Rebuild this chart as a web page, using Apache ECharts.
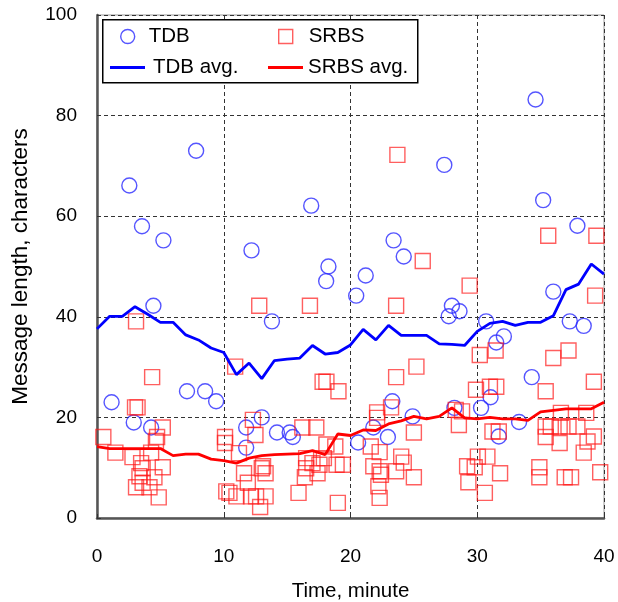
<!DOCTYPE html>
<html>
<head>
<meta charset="utf-8">
<script src="https://cdn.jsdelivr.net/npm/echarts@6/dist/echarts.min.js"></script>
<style>
html,body{margin:0;padding:0;background:#fff;}
#chart{width:618px;height:602px;}
</style>
</head>
<body>
<div id="chart"></div>
<script>
// TDB individual messages: time (minute), length (characters)
var tdbTime = [1.15,2.55,2.9,3.55,4.27,4.45,5.24,7.1,7.82,8.53,9.4,11.77,11.77,12.19,13.0,13.8,14.2,15.2,15.45,16.9,18.08,18.26,20.45,20.6,21.2,21.8,22.95,23.3,23.4,24.2,24.9,27.4,27.75,28.0,28.6,28.2,30.3,30.7,31.05,31.5,31.7,32.1,33.3,34.3,34.6,35.2,36.0,37.3,37.9,38.4];
var tdbLen  = [23.0,66.1,19.0,58.0,18.0,42.2,55.2,25.2,73.0,25.2,23.2,18.0,14.0,53.2,20.0,39.1,17.0,17.0,16.1,62.1,47.1,50.0,44.2,15.0,48.2,18.0,16.1,23.2,55.2,52.0,20.2,70.2,40.1,42.2,41.1,21.9,21.9,39.1,24.0,34.9,16.2,36.1,19.1,28.0,83.2,63.2,45.0,39.1,58.1,38.2];

// SRBS individual messages
var srbsTime = [0.5,1.45,2.8,3.08,3.0,3.2,4.35,4.27,4.74,4.65,5.19,3.48,3.6,5.19,4.53,3.35,3.08,3.6,4.14,4.87,
  10.9,12.8,12.3,12.5,10.1,10.1,11.2,11.6,13.3,13.1,11.9,10.2,10.45,11.0,12.15,12.55,12.87,13.3,
  15.9,16.2,17.3,16.8,17.8,18.1,19.05,16.5,17.0,17.55,16.5,17.4,16.4,18.1,18.8,18.9,19.4,19.0,17.9,13.0,
  21.6,22.3,22.1,22.1,23.2,23.6,23.6,23.7,25.2,25.7,25.0,24.0,24.2,21.8,22.3,22.4,22.2,22.3,23.6,25.0,
  29.4,30.2,31.45,35.6,39.4,39.3,36.0,37.2,39.2,29.9,31.0,31.5,35.4,28.3,28.8,28.55,31.2,31.7,35.4,35.8,36.5,37.2,37.9,38.6,36.6,39.2,35.4,36.5,38.7,38.4,30.05,30.8,29.2,29.8,31.8,29.3,30.6,34.9,34.9,36.9,37.4,39.7];
var srbsLen  = [16.1,13.0,12.1,39.1,22.0,22.0,28.0,13.0,16.1,15.3,18.0,10.9,9.9,10.1,8.1,8.3,6.1,7.0,6.1,4.1,
  30.1,42.2,19.5,16.5,16.1,14.9,12.9,8.9,8.9,10.3,7.0,5.3,5.0,4.3,4.3,4.3,2.2,4.3,
  5.0,18.0,18.0,42.2,27.1,27.1,25.2,11.9,10.9,10.6,9.9,8.9,8.1,14.6,14.2,10.6,10.6,3.0,11.9,9.9,
  14.2,13.1,21.0,19.9,22.0,28.0,42.2,72.2,30.1,51.1,17.0,12.2,11.0,10.3,9.3,8.6,6.3,4.0,9.3,8.1,
  46.2,32.4,33.3,56.1,56.1,44.2,31.8,33.3,27.1,25.5,26.1,26.1,25.2,21.5,21.2,18.5,17.2,17.2,18.2,18.2,18.2,18.2,18.2,20.9,20.9,16.2,16.1,14.9,15.2,13.0,12.2,12.2,10.3,10.1,8.9,7.1,5.0,10.1,8.1,8.1,8.1,9.1];

// Running averages, one value per minute
var avgTime = [0,1,2,3,4,5,6,7,8,9,10,11,12,13,14,15,16,17,18,19,20,21,22,23,24,25,26,27,28,29,30,31,32,33,34,35,36,37,38,39,40];
var tdbAvg  = [37.6,40.1,40.1,42.0,40.5,38.9,38.9,36.4,35.4,33.8,32.9,28.5,30.8,27.7,31.3,31.6,31.8,34.3,32.6,32.9,34.4,37.5,35.4,38.3,36.3,36.3,36.3,34.6,34.5,34.3,37.1,38.7,39.1,38.3,38.9,38.9,40.2,45.4,46.5,50.5,48.5];
var srbsAvg = [14.2,13.8,13.8,13.8,13.8,13.8,12.4,12.7,12.7,11.7,11.4,10.9,11.9,12.4,12.6,12.7,12.8,13.4,12.6,16.7,16.4,17.5,17.4,18.7,19.3,20.2,19.7,20.2,21.9,19.9,19.7,20.0,19.7,19.7,19.4,21.1,21.4,21.7,21.7,21.7,23.0];

var xTicks = [0,10,20,30,40];
var yTicks = [0,20,40,60,80,100];

function pairs(a,b){ var r=[]; for(var i=0;i<a.length;i++) r.push([a[i],b[i]]); return r; }

var FONT = 'Liberation Sans, Arial, sans-serif';
var BLUE_C = '#2a2aff', RED_S = 'rgba(255,20,20,0.85)';
var chart = echarts.init(document.getElementById('chart'), null, {renderer:'canvas'});
var dash = [4,3];
function legend(name, left, top, icon, w, h, extra, itemStyle){
  return {orient:'horizontal',left:left,top:top,itemWidth:w,itemHeight:h,z:5,
    padding:0,textStyle:{fontSize:20.5,color:'#000',fontFamily:FONT,padding:[0,0,0,extra]},
    data:[{name:name,icon:icon,itemStyle:itemStyle}]};
}
chart.setOption({
  animation:false,
  backgroundColor:'#fff',
  grid:{left:97,right:14,top:15,bottom:84,containLabel:false,outerBoundsMode:'none',
    show:true,borderColor:'#999',borderWidth:1},
  xAxis:{type:'value',min:xTicks[0],max:xTicks[xTicks.length-1],interval:10,
    name:'Time, minute',nameLocation:'middle',nameGap:63,
    nameTextStyle:{fontSize:20.5,color:'#000',fontFamily:FONT},
    axisLine:{show:true,onZero:false,lineStyle:{color:'#555',width:2.5}},
    axisTick:{show:true,inside:true,length:4,lineStyle:{color:'#333'}},
    axisLabel:{fontSize:19,color:'#000',margin:29,fontFamily:FONT},
    splitLine:{show:true,lineStyle:{color:'#333',width:1,type:dash}}},
  yAxis:{type:'value',min:yTicks[0],max:yTicks[yTicks.length-1],interval:20,
    name:'Message length, characters',nameLocation:'middle',nameGap:65,nameRotate:90,
    nameTextStyle:{fontSize:22.5,color:'#000',fontFamily:FONT},
    axisLine:{show:true,onZero:false,lineStyle:{color:'#555',width:2.5}},
    axisTick:{show:true,inside:true,length:4,lineStyle:{color:'#333'}},
    axisLabel:{fontSize:19,color:'#000',margin:20,fontFamily:FONT},
    splitLine:{show:true,lineStyle:{color:'#333',width:1,type:dash}}},
  graphic:[{type:'rect',left:102,top:19,z:3,shape:{width:315,height:63},
    style:{fill:'#fff',stroke:'#000',lineWidth:1.5}}],
  legend:[
    legend('TDB',120,26,'circle',14,14,9,{color:'rgba(0,0,0,0)',borderColor:BLUE_C,borderWidth:1.4}),
    legend('SRBS',278,26,'rect',14,14,11,{color:'rgba(0,0,0,0)',borderColor:RED_S,borderWidth:1.4}),
    legend('TDB avg.',110,57,'rect',35,3,3,{color:'#0000ff',borderWidth:0}),
    legend('SRBS avg.',268,57,'rect',35,3,0,{color:'#ff0000',borderWidth:0})
  ],
  series:[
    {name:'TDB',type:'scatter',symbol:'circle',symbolSize:15,z:2,
     itemStyle:{color:'rgba(0,0,0,0)',borderColor:BLUE_C,borderWidth:1.4},
     data:pairs(tdbTime,tdbLen)},
    {name:'SRBS',type:'scatter',symbol:'rect',symbolSize:15,z:2,
     itemStyle:{color:'rgba(0,0,0,0)',borderColor:RED_S,borderWidth:1.4},
     data:pairs(srbsTime,srbsLen)},
    {name:'TDB avg.',type:'line',symbol:'none',z:3,
     lineStyle:{color:'#0000ff',width:2.8},itemStyle:{color:'#0000ff'},
     data:pairs(avgTime,tdbAvg)},
    {name:'SRBS avg.',type:'line',symbol:'none',z:3,
     lineStyle:{color:'#ff0000',width:2.8},itemStyle:{color:'#ff0000'},
     data:pairs(avgTime,srbsAvg)}
  ]
});
</script>
</body>
</html>
